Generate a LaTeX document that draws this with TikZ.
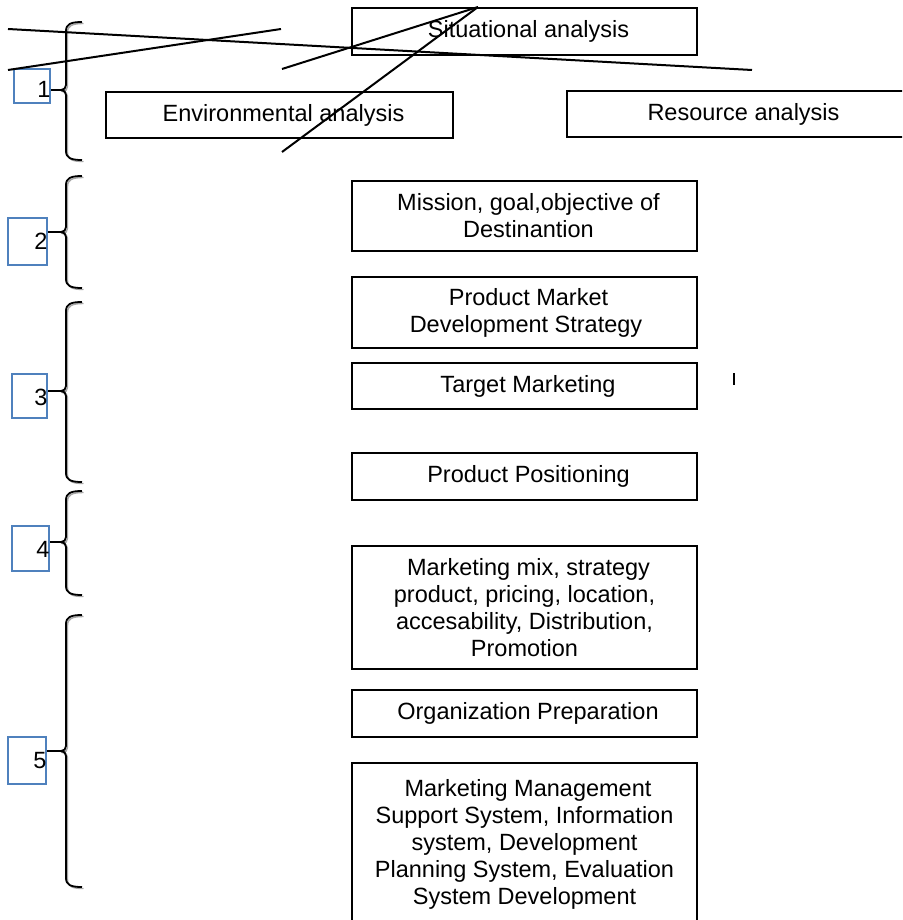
\documentclass[tikz,border=0pt]{standalone}
\usepackage{fontspec}
\setmainfont{Liberation Sans}
\definecolor{numblue}{RGB}{79,129,189}
\newcommand\mysz{\fontsize{23.5}{27}\selectfont}
\newcommand\wordbrace[3]{%
  \draw[braceshadow] (83.5,{#1+1.5}) .. controls (72.5,{#1+1.5}) and (67.5,{#1+3.5}) .. (67.5,{#1+10.5}) -- (67.5,{#2-3.5}) .. controls (67.5,{#2-0.5}) and (65.5,{#2+1.5}) .. (62.5,{#2+1.5}) .. controls (65.5,{#2+1.5}) and (67.5,{#2+3.5}) .. (67.5,{#2+6.5}) -- (67.5,{#3-7.5}) .. controls (67.5,{#3-0.5}) and (72.5,{#3+1.5}) .. (83.5,{#3+1.5});
  \draw[bracestyle] (82,#1) .. controls (71,#1) and (66,{#1+2}) .. (66,{#1+9}) -- (66,{#2-5}) .. controls (66,{#2-2}) and (64,#2) .. (61,#2) .. controls (64,#2) and (66,{#2+2}) .. (66,{#2+5}) -- (66,{#3-9}) .. controls (66,{#3-2}) and (71,#3) .. (82,#3);
}
\begin{document}
\begin{tikzpicture}[x=1pt,y=-1pt,
  stagebox/.style={draw=black, line width=1.5pt, inner sep=0pt, align=center, font=\mysz, text=black},
  numbox/.style={draw=numblue, line width=1.5pt, inner sep=0pt},
  numtxt/.style={inner sep=0pt, font=\mysz, anchor=east},
  slash/.style={draw=black, line width=2pt},
  bracestyle/.style={draw=black, line width=1.8pt},
  braceshadow/.style={draw=black!35, line width=1.4pt},
  tick/.style={draw=black, line width=2.5pt}]
\useasboundingbox (0,0) rectangle (902,920);
\clip (0,0) rectangle (902,920);
\fill[white] (0,0) rectangle (902,920);

% stage boxes
\node[stagebox, minimum width=345pt, minimum height=47pt] (sit) at (524.5,31.5) {\hspace*{8pt}Situational analysis};
\node[stagebox, minimum width=347pt, minimum height=46pt] (env) at (279.5,115) {\hspace*{8pt}Environmental analysis};
\node[stagebox, minimum width=353pt, minimum height=46pt] (res) at (743.5,114) {Resource analysis};
\node[stagebox, minimum width=345pt, minimum height=70pt] (mis) at (524.5,216) {\hspace*{8pt}Mission, goal,objective of\\\hspace*{8pt}Destinantion};
\node[stagebox, minimum width=345pt, minimum height=71pt] (pmd) at (524.5,312.5) {\hspace*{8pt}Product Market\\\hspace*{3pt}Development Strategy};
\node[stagebox, minimum width=345pt, minimum height=46pt] (tgm) at (524.5,386) {\hspace*{7pt}Target Marketing};
\node[stagebox, minimum width=345pt, minimum height=47pt] (ppo) at (524.5,476.5) {\hspace*{8pt}Product Positioning};
\node[stagebox, minimum width=345pt, minimum height=123pt] (mmx) at (524.5,607.5) {\hspace*{8pt}Marketing mix, strategy\\product, pricing, location,\\accesability, Distribution,\\Promotion};
\node[stagebox, minimum width=345pt, minimum height=47pt] (org) at (524.5,713.5) {\hspace*{7pt}Organization Preparation};
\node[stagebox, minimum width=345pt, minimum height=162pt] (mgt) at (524.5,844) {\hspace*{7pt}Marketing Management\\Support System, Information\\system, Development\\Planning System, Evaluation\\System Development};

% number boxes
\node[numbox, minimum width=36pt, minimum height=34pt] (n1) at (32,86) {};
\node[numbox, minimum width=39pt, minimum height=47pt] (n2) at (27.5,241.5) {};
\node[numbox, minimum width=35pt, minimum height=44pt] (n3) at (29.5,396) {};
\node[numbox, minimum width=37pt, minimum height=45pt] (n4) at (30.5,548.5) {};
\node[numbox, minimum width=38pt, minimum height=47pt] (n5) at (27,760.5) {};
\node[numtxt] (t1) at ([yshift=-3pt]n1.east) {1};
\node[numtxt] (t2) at (n2.east) {2};
\node[numtxt] (t3) at ([yshift=-1pt]n3.east) {3};
\node[numtxt] (t4) at ([yshift=-1pt]n4.east) {4};
\node[numtxt] (t5) at (n5.east) {5};

% braces
\wordbrace{22}{90}{160}
\wordbrace{176}{232}{288}
\wordbrace{302}{391}{482}
\wordbrace{491}{542}{595}
\wordbrace{615}{751}{887}
\coordinate (b1) at (62,90);
\coordinate (b2) at (62,232);
\coordinate (b3) at (62,391);
\coordinate (b4) at (62,542);
\coordinate (b5) at (62,751);
\draw[tick] (n1.east |- b1) -- (b1);
\draw[tick] (n2.east |- b2) -- (b2);
\draw[tick] (n3.east |- b3) -- (b3);
\draw[tick] (n4.east |- b4) -- (b4);
\draw[tick] (n5.east |- b5) -- (b5);

% crossing strokes
\coordinate (a1) at (8,29);
\coordinate (a2) at (752,70);
\coordinate (c1) at (8,70);
\coordinate (c2) at (281,29);
\coordinate (d1) at (282,69);
\coordinate (apex) at (478,7);
\coordinate (e1) at (282,152);
\draw[slash] (a1) -- (a2);
\draw[slash] (c1) -- (c2);
\draw[slash] (d1) -- (apex);
\draw[slash] (e1) -- (apex);

% small mark
\coordinate (m1) at (734,373);
\coordinate (m2) at (734,385);
\draw[line width=1.5pt] (m1) -- (m2);
\end{tikzpicture}
\end{document}
